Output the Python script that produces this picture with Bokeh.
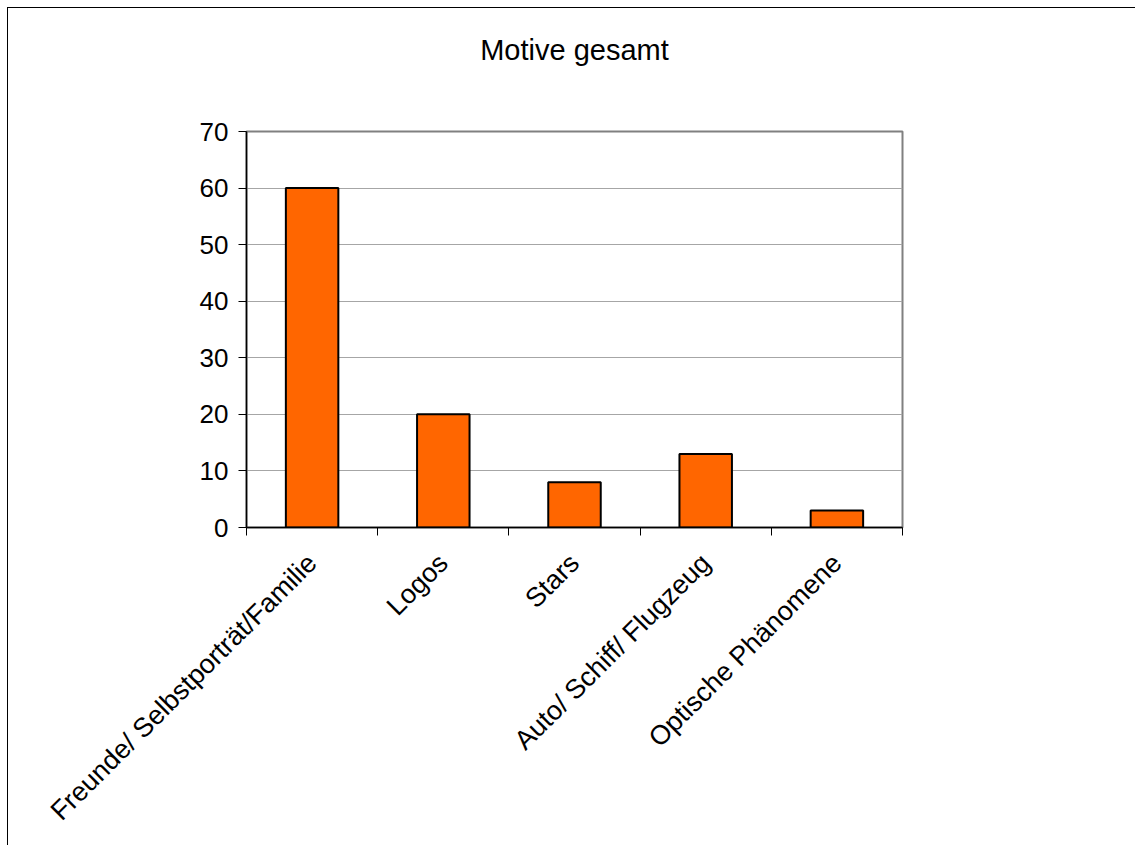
import math
from bokeh.plotting import figure
from bokeh.models import FixedTicker, Range1d, LinearAxis
from bokeh.embed import file_html
from bokeh.resources import INLINE

categories = ["Freunde/ Selbstporträt/Familie", "Logos", "Stars", "Auto/ Schiff/ Flugzeug", "Optische Phänomene"]
values = [60, 20, 8, 13, 3]
y_ticks = [0, 10, 20, 30, 40, 50, 60, 70]
title_text = "Motive gesamt"

FONT = "Liberation Sans"

centers = [i + 0.5 for i in range(len(categories))]
bounds = list(range(len(categories) + 1))

p = figure(width=1128, height=838, output_backend="svg", toolbar_location=None,
           x_range=Range1d(0, len(categories)), y_range=Range1d(0, 70),
           min_border_left=238, min_border_right=234, min_border_top=123, min_border_bottom=319)
p.margin = (7, 0, 0, 7)
p.styles = {"border-top": "1px solid black", "border-left": "1px solid black"}
p.background_fill_color = "white"
p.border_fill_color = "white"
p.outline_line_color = "#808080"
p.outline_line_width = 2

xa = p.below[0]
ya = p.left[0]

# chart title drawn as the label of an invisible axis above the frame
title_axis = LinearAxis(ticker=FixedTicker(ticks=[], minor_ticks=[]), axis_line_color=None,
                        major_tick_out=0, major_tick_in=0, minor_tick_out=0, minor_tick_in=0,
                        major_label_standoff=0,
                        axis_label=title_text, axis_label_standoff=66,
                        axis_label_text_font=FONT, axis_label_text_font_size="29px",
                        axis_label_text_font_style="normal", axis_label_text_color="black")
p.add_layout(title_axis, "above")

p.vbar(x=centers, top=values, width=0.4, bottom=0,
       fill_color="#FF6600", line_color="black", line_width=2)

# x axis: labels at centers, tick marks at category boundaries
xa.ticker = FixedTicker(ticks=centers, minor_ticks=bounds)
xa.major_label_overrides = {c: cat for c, cat in zip(centers, categories)}
xa.major_tick_out = 0
xa.major_tick_in = 0
xa.minor_tick_out = 8
xa.minor_tick_in = 0
xa.minor_tick_line_color = "black"
xa.minor_tick_line_width = 1
xa.major_label_orientation = math.pi / 4
xa.major_label_standoff = 23
xa.axis_line_color = "black"
xa.axis_line_width = 1.5
xa.major_label_text_font_size = "27px"
xa.major_label_text_font = FONT
xa.major_label_text_color = "black"

ya.ticker = FixedTicker(ticks=y_ticks, minor_ticks=[])
ya.major_tick_out = 8
ya.major_tick_in = 0
ya.major_tick_line_color = "black"
ya.axis_line_color = "black"
ya.axis_line_width = 1.5
ya.major_label_standoff = 10
ya.major_label_text_font_size = "26px"
ya.major_label_text_font = FONT
ya.major_label_text_color = "black"

p.xgrid.grid_line_color = None
p.ygrid.ticker = FixedTicker(ticks=y_ticks[1:-1])
p.ygrid.grid_line_color = "#a6a6a6"
p.ygrid.grid_line_width = 1

open("out.html", "w").write(file_html(p, INLINE))
